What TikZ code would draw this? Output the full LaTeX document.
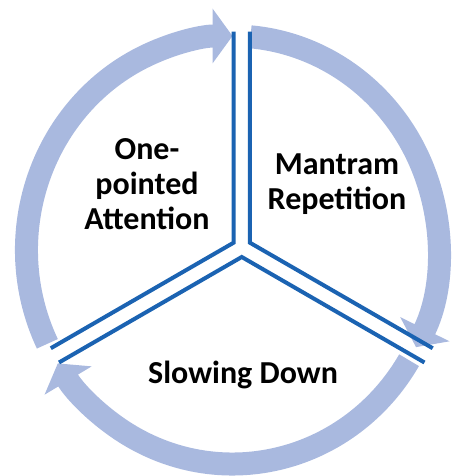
\documentclass[tikz,border=0pt]{standalone}
\usepackage{fontspec}
\setmainfont{Carlito}
\usepackage{tikz}
\usetikzlibrary{arrows.meta, calc}
\definecolor{ringblue}{RGB}{169,185,223}
\definecolor{lineblue}{RGB}{27,99,178}

\begin{document}
\begin{tikzpicture}[
  x=1pt, y=1pt,
  stage/.style={font=\fontsize{32}{35}\selectfont\bfseries, align=center, text=black},
  ring/.style={line width=23pt, draw=ringblue, -{Triangle[length=20pt, width=54pt]}},
  divider/.style={line width=4pt, draw=lineblue}
]
  \useasboundingbox (0,0) rectangle (462,476);

  \coordinate (mid) at (232.5,226);
  \coordinate (hub) at (241.75,228.5);

  % ring of arrows
  \draw[ring] ($(mid)+(206:206pt and 214pt)$) arc[start angle=206, end angle=90, x radius=206pt, y radius=214pt];
  \draw[ring] ($(mid)+(85:206pt and 214pt)$) arc[start angle=85, end angle=-27, x radius=206pt, y radius=214pt];
  \draw[ring] ($(mid)+(-31:206pt and 214pt)$) arc[start angle=-31, end angle=-148, x radius=206pt, y radius=214pt];

  % three sectors
  \coordinate (lcorner) at ($(hub)+(150:9.5pt)$);
  \coordinate (rcorner) at ($(hub)+(30:9.5pt)$);
  \coordinate (bcorner) at ($(hub)+(270:9.5pt)$);
  \draw[divider] ($(lcorner)+(90:211pt)$) -- (lcorner) -- ($(lcorner)+(210:211pt)$);
  \draw[divider] ($(rcorner)+(90:211pt)$) -- (rcorner) -- ($(rcorner)+(-30:211pt)$);
  \draw[divider] ($(bcorner)+(210:211pt)$) -- (bcorner) -- ($(bcorner)+(-30:211pt)$);

  \node[stage] (attention) at (147,292) {One-\\pointed\\Attention};
  \node[stage] (mantram)   at (337,292) {Mantram\\Repetition};
  \node[stage] (slowing)   at (243,101) {Slowing Down};
\end{tikzpicture}
\end{document}
